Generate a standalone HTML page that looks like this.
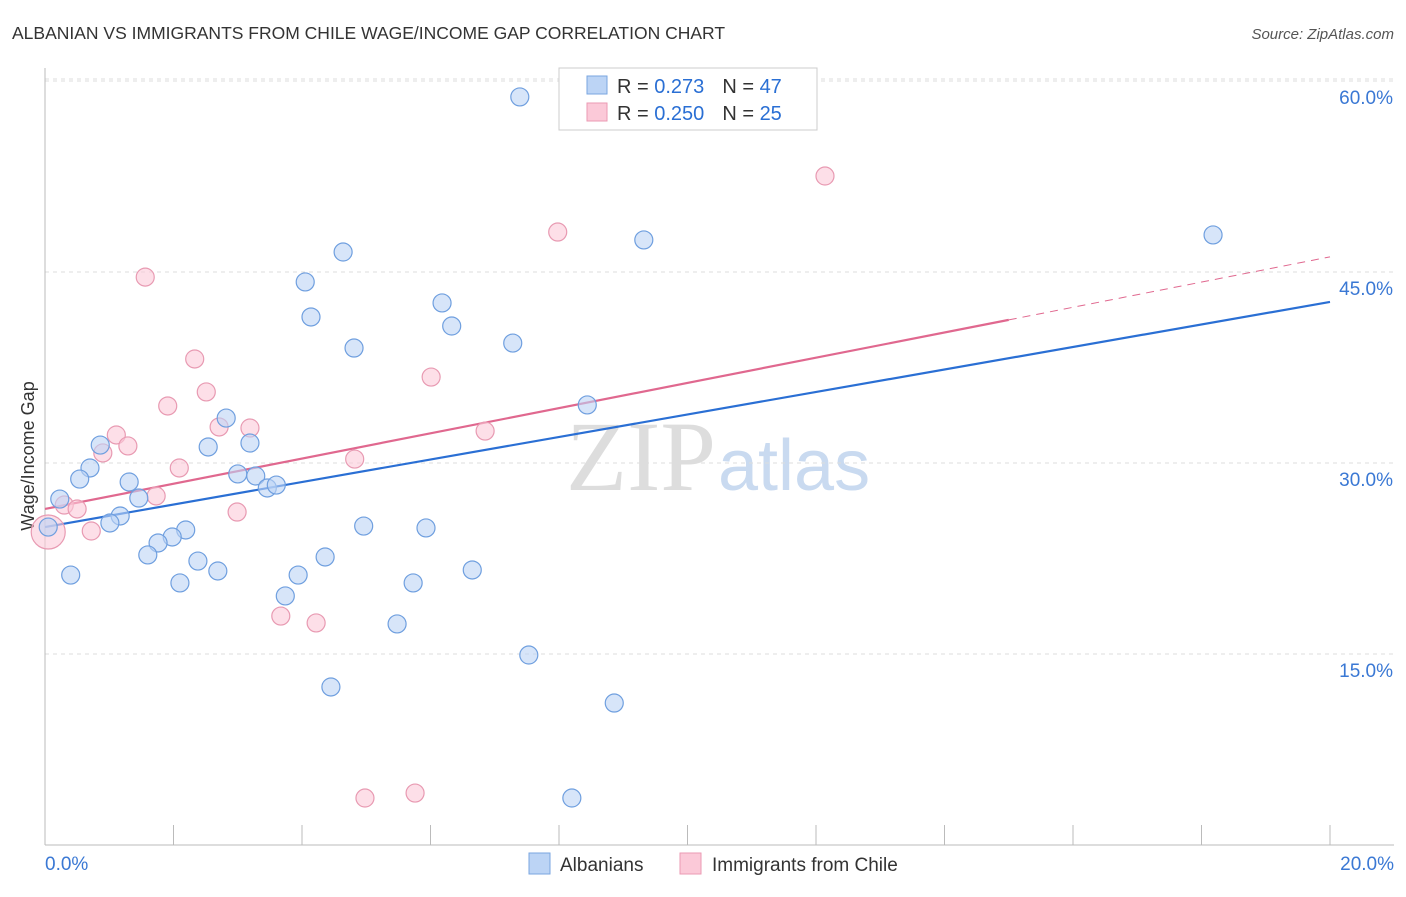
<!DOCTYPE html>
<html><head><meta charset="utf-8"><style>
body{margin:0;background:#fff;font-family:"Liberation Sans",sans-serif}
svg text{font-family:"Liberation Sans",sans-serif}
</style></head><body>
<svg id="c" width="1406" height="892">
<text x="12" y="39" font-size="17.5" fill="#333">ALBANIAN VS IMMIGRANTS FROM CHILE WAGE/INCOME GAP CORRELATION CHART</text>
<text x="1394" y="39" font-size="15" fill="#555" font-style="italic" text-anchor="end">Source: ZipAtlas.com</text>
<text x="716" y="490" font-size="100" fill="#ddd" text-anchor="end" style="font-family:'Liberation Serif',serif">ZIP</text>
<text x="718" y="490" font-size="72" fill="#c9daf0">atlas</text>
<text transform="translate(34,456) rotate(-90)" font-size="18" fill="#333" text-anchor="middle">Wage/Income Gap</text>
<g id="grid"></g><g id="axes"></g><g id="trend"></g><g id="pts"></g>
<g>
<rect x="559" y="68" width="258" height="62" fill="#fff" stroke="#ccc"/>
<rect x="587" y="76" width="20" height="18" fill="#bcd4f5" stroke="#7aa6e0"/>
<rect x="587" y="103" width="20" height="18" fill="#fbc9d8" stroke="#eb9ab3"/>
<text x="617" y="93" font-size="20" fill="#333">R = <tspan fill="#2a6fd4">0.273</tspan><tspan dx="18">N = </tspan><tspan fill="#2a6fd4">47</tspan></text>
<text x="617" y="120" font-size="20" fill="#333">R = <tspan fill="#2a6fd4">0.250</tspan><tspan dx="18">N = </tspan><tspan fill="#2a6fd4">25</tspan></text>
</g>
<g>
<rect x="529" y="853" width="21" height="21" fill="#bcd4f5" stroke="#7aa6e0"/>
<text x="560" y="871" font-size="19" fill="#333">Albanians</text>
<rect x="680" y="853" width="21" height="21" fill="#fbc9d8" stroke="#eb9ab3"/>
<text x="712" y="871" font-size="19" fill="#333">Immigrants from Chile</text>
</g>
</svg>
<script>
const blueX=[7.39,9.32,18.18,4.64,4.05,4.14,6.18,6.33,4.81,7.28,8.44,2.82,3.19,2.54,0.86,0.70,0.54,1.31,0.23,1.46,3.00,3.28,3.46,3.60,1.17,1.01,0.05,2.19,1.98,1.76,1.60,2.38,2.69,0.40,2.10,3.94,4.36,4.96,5.93,6.65,5.73,3.74,5.48,7.53,4.45,8.86,8.20];
const blueY=[58.75,47.52,47.91,46.57,44.22,41.47,42.57,40.76,39.03,39.42,34.56,33.53,31.57,31.26,31.41,29.61,28.74,28.51,27.17,27.25,29.14,28.98,28.04,28.27,25.84,25.29,24.97,24.74,24.19,23.72,22.78,22.30,21.52,21.20,20.58,21.20,22.62,25.05,24.90,21.60,20.58,19.56,17.36,14.92,12.41,11.15,3.69];
const pinkX=[12.14,7.98,1.56,2.33,6.01,2.51,1.91,6.85,3.19,2.71,1.11,1.29,0.90,4.82,2.09,1.73,0.30,0.50,2.99,0.72,0.05,3.67,4.22,4.98,5.76];
const pinkY=[52.54,48.14,44.60,38.17,36.75,35.58,34.48,32.51,32.75,32.83,32.20,31.34,30.79,30.31,29.61,27.41,26.70,26.39,26.15,24.66,24.58,17.98,17.44,3.69,4.08];
const yTicks=[15,30,45,60];
const yTickLabels=["15.0%","30.0%","45.0%","60.0%"];
const blueTrend=[24.97,0.884];
const pinkTrend=[26.39,0.99];
const NS="http://www.w3.org/2000/svg";
const X=v=>45+v*64.25, Y=v=>845-v*12.733;
function mk(t,p,a){const e=document.createElementNS(NS,t);for(const k in a)e.setAttribute(k,a[k]);p.appendChild(e);return e;}
const grid=document.getElementById('grid'),axes=document.getElementById('axes'),tr=document.getElementById('trend'),pts=document.getElementById('pts');
yTicks.forEach((v,i)=>{
 const l=mk('line',grid,{x1:45,x2:1394,y1:Y(v),y2:Y(v),stroke:'#ddd','stroke-dasharray':'4,4'});
 
 
 const t=mk('text',grid,{x:1393,y:Y(v)+23,'font-size':19,fill:'#3a78d4','text-anchor':'end'});
 t.textContent=yTickLabels[i];
 
 
});
const topLine=mk('line',grid,{x1:45,x2:1394,y1:79,y2:79,stroke:'#ddd','stroke-dasharray':'4,4'});


mk('line',axes,{x1:45,x2:45,y1:68,y2:845,stroke:'#bbb'});
mk('line',axes,{x1:45,x2:1394,y1:845,y2:845,stroke:'#bbb'});
for(let v=0;v<=20;v+=2){const t=mk('line',axes,{x1:X(v),x2:X(v),y1:825,y2:845,stroke:'#bbb'});
 
 }
const x0=mk('text',axes,{x:45,y:870,'font-size':19,fill:'#3a78d4'});x0.textContent='0.0%';


const x1=mk('text',axes,{x:1394,y:870,'font-size':19,fill:'#3a78d4','text-anchor':'end'});x1.textContent='20.0%';


function pt(xs,ys,fill,stroke,name){xs.forEach((x,i)=>{const r=(name==='chile-point'&&x<0.1)?17:9;
 const c=mk('circle',pts,{cx:X(x),cy:Y(ys[i]),r:r,fill:fill,stroke:stroke,'stroke-width':1.2,'fill-opacity':0.6});
 
 });}
pt(pinkX,pinkY,'#fbc9d8','#e89ab2','chile-point');
pt(blueX,blueY,'#bcd4f5','#6f9fdf','albanian-point');
const bl=mk('line',tr,{x1:X(0),y1:Y(blueTrend[0]),x2:X(20),y2:Y(blueTrend[0]+20*blueTrend[1]),stroke:'#2a6fd4','stroke-width':2.2});


const pl=mk('line',tr,{x1:X(0),y1:Y(pinkTrend[0]),x2:X(15),y2:Y(pinkTrend[0]+15*pinkTrend[1]),stroke:'#e0688f','stroke-width':2.2});


const pd=mk('line',tr,{x1:X(15),y1:Y(pinkTrend[0]+15*pinkTrend[1]),x2:X(20),y2:Y(pinkTrend[0]+20*pinkTrend[1]),stroke:'#e0688f','stroke-width':1,'stroke-dasharray':'8,6'});


</script>
</body></html>
